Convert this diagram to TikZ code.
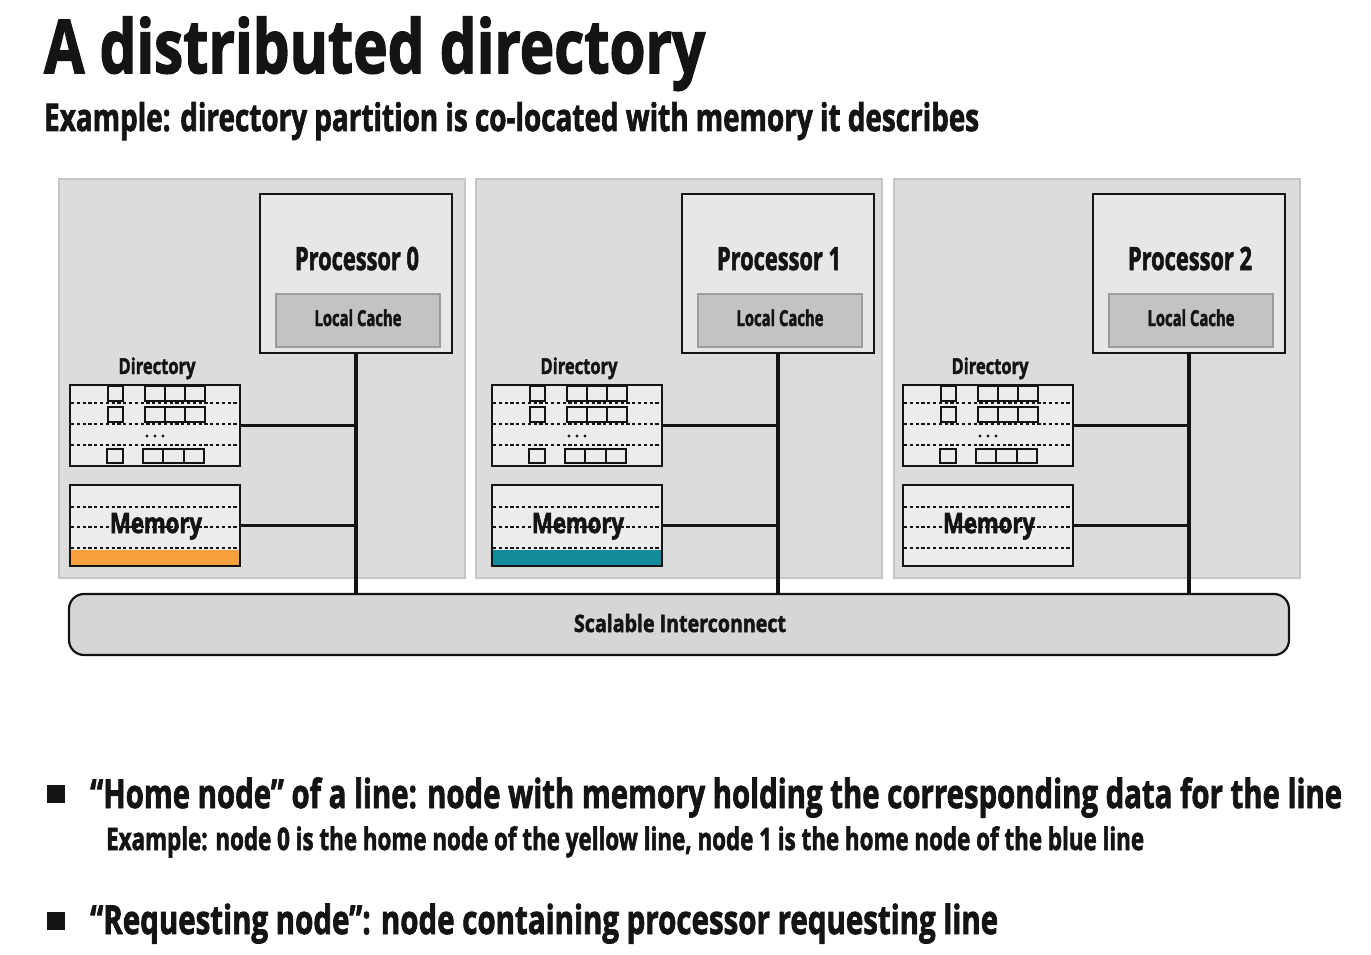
\documentclass[tikz,border=0pt]{standalone}
\usepackage{graphicx}
\usepackage{fontspec}
\setmainfont{Open Sans}[BoldFeatures={FakeBold=2.2}]

\definecolor{ink}{HTML}{141414}
\definecolor{panelfill}{HTML}{DCDDDB}
\definecolor{panelline}{HTML}{C5C6C4}
\definecolor{procfill}{HTML}{E7E7E7}
\definecolor{cachefill}{HTML}{C3C3C3}
\definecolor{cacheline}{HTML}{9C9C9C}
\definecolor{storefill}{HTML}{ECECEC}
\definecolor{bandorange}{HTML}{F7A03C}
\definecolor{bandteal}{HTML}{138B9B}
\definecolor{icfill}{HTML}{D6D6D6}

% text of a given size squeezed to a given width
\newcommand\fittext[3]{{\fontsize{#1}{#1}\selectfont\resizebox{#2}{\height}{#3}}}

\tikzset{
  panel/.style={draw=panelline, fill=panelfill, line width=1.6pt, inner sep=0pt, anchor=north west},
  procbox/.style={draw=ink, fill=procfill, line width=2.2pt, inner sep=0pt},
  cachebox/.style={draw=cacheline, fill=cachefill, line width=1.6pt, inner sep=0pt},
  store/.style={draw=ink, fill=storefill, line width=2pt, inner sep=0pt},
  row/.style={draw=ink, line width=1.5pt, dash pattern=on 3.2pt off 2.6pt},
  cell/.style={draw=ink, fill=storefill, line width=1.8pt},
  wire/.style={draw=ink, line width=3.2pt},
  label/.style={inner sep=0pt, text=ink, font=\bfseries, anchor=base},
  bulletmark/.style={fill=ink, minimum size=18pt, inner sep=0pt},
  icbox/.style={draw=ink, fill=icfill, line width=2.2pt, rounded corners=15pt, inner sep=0pt}
}

\begin{document}
\begin{tikzpicture}[x=1pt, y=-1pt]
\useasboundingbox[fill=white] (0,0) rectangle (1371,955);

% headings
\node[label, anchor=base west] (title) at (44,73)
  {\fittext{74}{661pt}{A distributed directory}};
\node[label, anchor=base west] (subtitle) at (44,131)
  {\fittext{38}{935pt}{Example: directory partition is co-located with memory it describes}};

% node panels
\foreach \i/\px in {0/58, 1/475, 2/893}
  \node[panel, minimum width=406pt, minimum height=399pt] (panel\i) at (\px,178) {};

% interconnect
\node[icbox, minimum width=1220pt, minimum height=61pt] (ic) at (679,624.5) {};
\node[label] (ictext) at (680,632) {\fittext{24}{212pt}{Scalable Interconnect}};

% one processing node per panel
\foreach \i/\dx in {0/0, 1/422, 2/833} {
  \begin{scope}[shift={(\dx,0)}]
    % processor with its cache
    \node[procbox, minimum width=192pt, minimum height=159pt] (proc\i) at (356,273.5) {};
    \node[label] (ptext\i) at (357,270) {\fittext{32}{124pt}{Processor \i}};
    \node[cachebox, minimum width=164pt, minimum height=53pt] (cache\i) at (358,320.5) {};
    \node[label] (ctext\i) at (358,326) {\fittext{22}{87pt}{Local Cache}};

    % directory partition
    \node[label] (dtext\i) at (157,374) {\fittext{22}{77pt}{Directory}};
    \node[store, minimum width=170pt, minimum height=81pt] (dir\i) at (155,425.5) {};
    \foreach \yy in {403,424,445}
      \draw[row] (71,\yy) -- (239,\yy);
    \foreach \top/\bot in {386/401, 407/422} {
      \draw[cell] (108,\top) rectangle (123,\bot);
      \foreach \cx in {145,165,185}
        \draw[cell] (\cx,\top) rectangle (\cx+20,\bot);
    }
    \draw[cell] (107,449) rectangle (123,463);
    \foreach \cx in {143,163.3,183.6}
      \draw[cell] (\cx,449) rectangle (\cx+20.3,463);
    \foreach \dd in {147,155,163}
      \fill[ink] (\dd,436) circle (1.7pt);

    % memory
    \node[store, minimum width=170pt, minimum height=81pt] (mem\i) at (155,525.5) {};
    \foreach \yy in {507,527,548}
      \draw[row] (71,\yy) -- (239,\yy);
    \node[label] (mtext\i) at (156,533) {\fittext{28}{92pt}{Memory}};

    % links onto the processor bus
    \draw[wire] (proc\i.south) -- (proc\i.south |- ic.north);
    \draw[wire] (dir\i.east) -- (dir\i.east -| proc\i.south);
    \draw[wire] (mem\i.east) -- (mem\i.east -| proc\i.south);
  \end{scope}
}

% lines homed in node 0 and node 1
\fill[bandorange] (71,549.5) rectangle (239,565);
\fill[bandteal] (493,549.5) rectangle (661,565);

% bullet points
\node[bulletmark] (b1) at (56,794) {};
\node[label, anchor=base west] (home) at (90,808)
  {\fittext{40}{1252pt}{“Home node” of a line: node with memory holding the corresponding data for the line}};
\node[label, anchor=base west] (homeex) at (106,850)
  {\fittext{31}{1038pt}{Example: node 0 is the home node of the yellow line, node 1 is the home node of the blue line}};
\node[bulletmark] (b2) at (56,921) {};
\node[label, anchor=base west] (req) at (90,934)
  {\fittext{40}{908pt}{“Requesting node”: node containing processor requesting line}};
\end{tikzpicture}
\end{document}
